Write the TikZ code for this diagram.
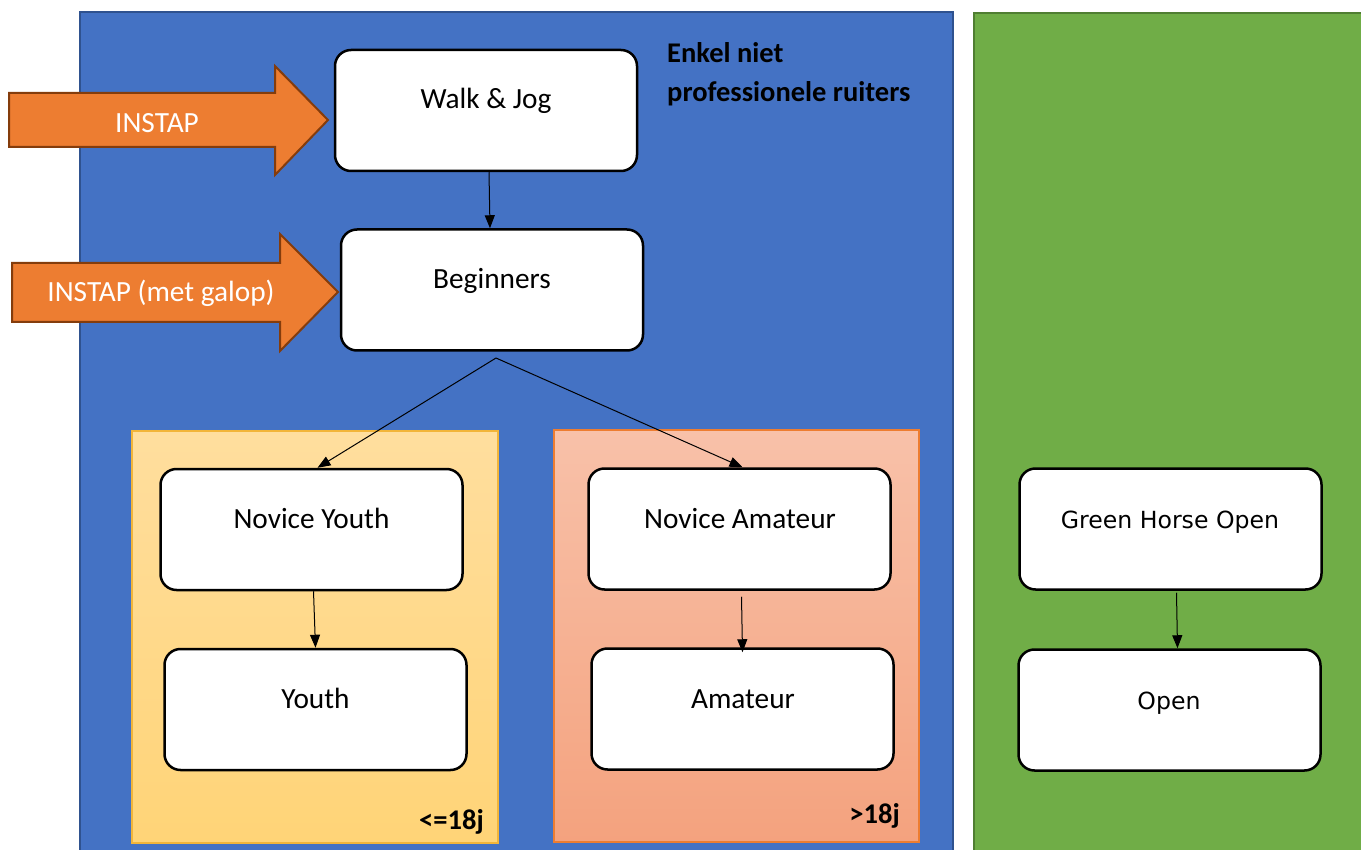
\documentclass[tikz,border=0pt]{standalone}
\usepackage{fontspec}
\setmainfont{Carlito}
\newfontfamily\dvs{DejaVu Sans}
\usetikzlibrary{arrows.meta}
\definecolor{bluefill}{HTML}{4472C4}
\definecolor{blueline}{HTML}{2F528F}
\definecolor{greenfill}{HTML}{70AD47}
\definecolor{greenline}{HTML}{507E32}
\definecolor{orfill}{HTML}{ED7D31}
\definecolor{orline}{HTML}{843C0C}
\definecolor{yeltop}{HTML}{FFDE9E}
\definecolor{yelbot}{HTML}{FFD477}
\definecolor{yelline}{HTML}{F2B53A}
\definecolor{saltop}{HTML}{F8C1A9}
\definecolor{salbot}{HTML}{F4A27E}
\definecolor{salline}{HTML}{ED7D31}
\begin{document}
\begin{tikzpicture}[x=1pt,y=-1pt,
  box/.style={draw=black, line width=2.5pt, fill=white, rounded corners=16pt,
    minimum width=302pt, minimum height=121pt, inner sep=0pt},
  boxtext/.style={font=\fontsize{29.3}{35}\selectfont, text=black, inner sep=0pt, anchor=base},
  gtext/.style={font=\dvs\fontsize{23.6}{28}\selectfont, text=black, inner sep=0pt, anchor=base},
  conn/.style={draw=black, line width=1pt, -{Triangle[length=13pt,width=10pt]}},
  bigarrow/.style={fill=orfill, draw=orline, line width=2pt, line join=miter},
  arrowtext/.style={font=\fontsize{29.3}{35}\selectfont, text=white, inner sep=0pt, anchor=base},
  agelabel/.style={font=\bfseries\fontsize{28.5}{34}\selectfont, text=black, inner sep=0pt, anchor=base east}
]
\useasboundingbox (0,0) rectangle (1361,850);
\clip (0,0) rectangle (1361,850);
\fill[white] (0,0) rectangle (1361,850);

% panels
\draw[fill=bluefill, draw=blueline, line width=2pt] (80,12) rectangle (953,870);
\draw[fill=greenfill, draw=greenline, line width=2pt] (974,13) rectangle (1375,870);

% age groups
\draw[top color=yeltop, bottom color=yelbot, draw=yelline, line width=1.5pt] (132,431) rectangle (498,843);
\draw[top color=saltop, bottom color=salbot, draw=salline, line width=1.5pt] (554,430) rectangle (919,842);

% big orange arrows
\draw[bigarrow] (9,93) -- (275,93) -- (275,66) -- (328,120) -- (275,175) -- (275,147) -- (9,147) -- cycle;
\node[arrowtext] (instap1) at (157,133) {INSTAP};
\draw[bigarrow] (12,263) -- (280,263) -- (280,234) -- (338,292) -- (280,351) -- (280,322) -- (12,322) -- cycle;
\node[arrowtext] (instap2) at (161,302) {INSTAP (met galop)};

% note
\node[font=\bfseries\fontsize{28.5}{39}\selectfont, align=left, anchor=base west, inner sep=0pt] (note) at (667,102) {Enkel niet\\professionele ruiters};

% boxes
\node[box] (wj) at (486,110.5) {};
\node[boxtext] (wjt) at (486,109) {Walk \& Jog};
\node[box] (beg) at (492,290) {};
\node[boxtext] (begt) at (492,289) {Beginners};
\node[box] (ny) at (311.5,529.5) {};
\node[boxtext] (nyt) at (311.5,528) {Novice Youth};
\node[box] (y) at (315.5,709.5) {};
\node[boxtext] (yt) at (315.5,708) {Youth};
\node[box] (na) at (739.5,529) {};
\node[boxtext] (nat) at (740,528) {Novice Amateur};
\node[box] (a) at (742.5,709) {};
\node[boxtext] (at) at (743,708) {Amateur};
\node[box] (gho) at (1170.5,529) {};
\node[gtext] (ghot) at (1170,528) {Green Horse Open};
\node[box] (op) at (1169.5,710) {};
\node[gtext] (opt) at (1169,709) {Open};

% age labels
\node[agelabel] (l1) at (484,829) {<=18j};
\node[agelabel] (l2) at (900,823) {>18j};

% connectors
\draw[conn] ([xshift=3pt]wj.south) -- ([xshift=-2pt]beg.north);
\coordinate (split) at (496,358);
\draw[conn] (split) -- ([xshift=6pt]ny.north);
\draw[conn] (split) -- ([xshift=3pt]na.north);
\draw[conn] ([xshift=2pt]ny.south) -- (y.north);
\draw[conn] ([xshift=2pt,yshift=-6pt]na.south) -- ([yshift=-5pt]a.north);
\draw[conn] ([xshift=6pt,yshift=-2pt]gho.south) -- ([xshift=8pt]op.north);
\end{tikzpicture}
\end{document}
